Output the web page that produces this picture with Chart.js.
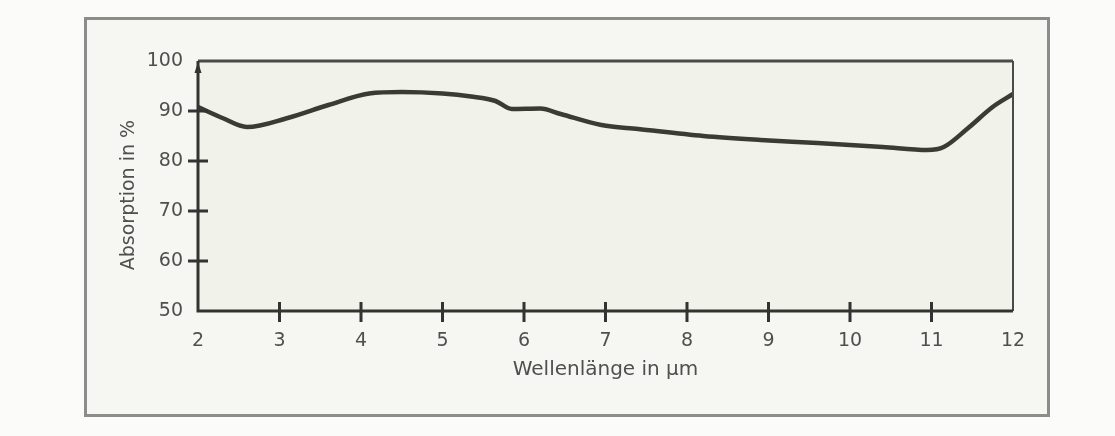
<!DOCTYPE html>
<html>
<head>
<meta charset="utf-8">
<script src="https://cdn.jsdelivr.net/npm/chart.js@4"></script>
<style>
  html, body { margin: 0; padding: 0; background: #fbfbfa; }
  #wrap { position: relative; width: 1115px; height: 436px; }
  #frame {
    position: absolute; left: 84px; top: 17px; width: 960px; height: 394px;
    border: 3px solid #8c8c89; background: #f6f7f3;
  }
  #chart { position: absolute; left: 0; top: 0; }
</style>
</head>
<body>
<div id="wrap">
  <div id="frame"></div>
  <canvas id="chart" width="1115" height="436"></canvas>
</div>
<script>
const wavelengths = [2.0, 2.3, 2.6, 3.1, 3.6, 4.1, 4.5, 5.0, 5.35, 5.65, 5.85, 6.2, 6.45, 6.95, 7.4, 8.2, 8.9, 9.6, 10.4, 10.95, 11.15, 11.45, 11.75, 12.0];
const absorption  = [90.8, 88.6, 86.8, 88.6, 91.2, 93.5, 93.8, 93.5, 92.9, 92.0, 90.4, 90.5, 89.4, 87.2, 86.4, 85.0, 84.2, 83.6, 82.8, 82.2, 82.8, 86.6, 90.8, 93.4];
const xTicks = [2, 3, 4, 5, 6, 7, 8, 9, 10, 11, 12];
const yTicks = [50, 60, 70, 80, 90, 100];
const xMarks = [3, 4, 5, 6, 7, 8, 9, 10, 11];
const yMarks = [60, 70, 80, 90];

const axisColor = '#333331';
const textColor = '#4f4f4d';
const tickFont = { family: 'DejaVu Sans, sans-serif', size: 19 };
const yTitleFont = { family: 'DejaVu Sans, sans-serif', size: 19 };
const xTitleFont = { family: 'DejaVu Sans, sans-serif', size: 20 };

// plot background, frame lines and the crossing tick marks
const decor = {
  id: 'decor',
  beforeDatasetsDraw(chart) {
    const { ctx, chartArea: a } = chart;
    ctx.save();
    ctx.fillStyle = '#f1f3ea';
    ctx.fillRect(a.left, a.top, a.right - a.left, a.bottom - a.top);
    ctx.restore();
  },
  afterDatasetsDraw(chart) {
    const { ctx, chartArea: a, scales: { x, y } } = chart;
    ctx.save();
    ctx.strokeStyle = '#4a4a47';
    ctx.lineWidth = 3;
    ctx.beginPath();
    ctx.moveTo(a.left, a.top);
    ctx.lineTo(a.right, a.top);
    ctx.stroke();
    ctx.lineWidth = 2;
    ctx.beginPath();
    ctx.moveTo(a.right, a.top);
    ctx.lineTo(a.right, a.bottom);
    ctx.stroke();

    ctx.strokeStyle = axisColor;
    ctx.lineWidth = 3;
    ctx.beginPath();
    ctx.moveTo(a.left, a.top);
    ctx.lineTo(a.left, a.bottom);
    ctx.lineTo(a.right, a.bottom);
    ctx.stroke();

    ctx.beginPath();
    yMarks.forEach(v => {
      const py = y.getPixelForValue(v);
      ctx.moveTo(a.left - 10, py);
      ctx.lineTo(a.left + 10, py);
    });
    xMarks.forEach(v => {
      const px = x.getPixelForValue(v);
      ctx.moveTo(px, a.bottom - 9);
      ctx.lineTo(px, a.bottom + 11);
    });
    ctx.stroke();

    ctx.fillStyle = axisColor;
    ctx.beginPath();
    ctx.moveTo(a.left, a.top + 1);
    ctx.lineTo(a.left - 3.5, a.top + 12);
    ctx.lineTo(a.left + 3.5, a.top + 12);
    ctx.closePath();
    ctx.fill();
    ctx.restore();
  }
};

new Chart(document.getElementById('chart'), {
  type: 'line',
  data: {
    datasets: [{
      data: wavelengths.map((w, i) => ({ x: w, y: absorption[i] })),
      borderColor: '#3b3b35',
      borderWidth: 4.5,
      pointRadius: 0,
      cubicInterpolationMode: 'monotone',
      clip: false
    }]
  },
  options: {
    responsive: false,
    animation: false,
    layout: { padding: { left: 118, right: 102, top: 61, bottom: 54 } },
    plugins: { legend: { display: false }, tooltip: { enabled: false } },
    scales: {
      x: {
        type: 'linear', min: 2, max: 12,
        afterFit: s => { s.height = 71; },
        afterBuildTicks: s => { s.ticks = xTicks.map(v => ({ value: v })); },
        grid: { display: false, drawTicks: false },
        border: { display: false },
        ticks: { padding: 19, color: textColor, font: tickFont, maxRotation: 0 },
        title: { display: true, text: 'Wellenlänge in µm', color: textColor, font: xTitleFont, padding: 0 }
      },
      y: {
        type: 'linear', min: 50, max: 100,
        afterFit: s => { s.width = 80; },
        afterBuildTicks: s => { s.ticks = yTicks.map(v => ({ value: v })); },
        grid: { display: false, drawTicks: false },
        border: { display: false },
        ticks: { padding: 15, color: textColor, font: tickFont },
        // trailing spaces nudge the centred title a little lower, like the original
        title: { display: true, text: 'Absorption in %   ', color: textColor, font: yTitleFont, padding: 0 }
      }
    }
  },
  plugins: [decor]
});
</script>
</body>
</html>
